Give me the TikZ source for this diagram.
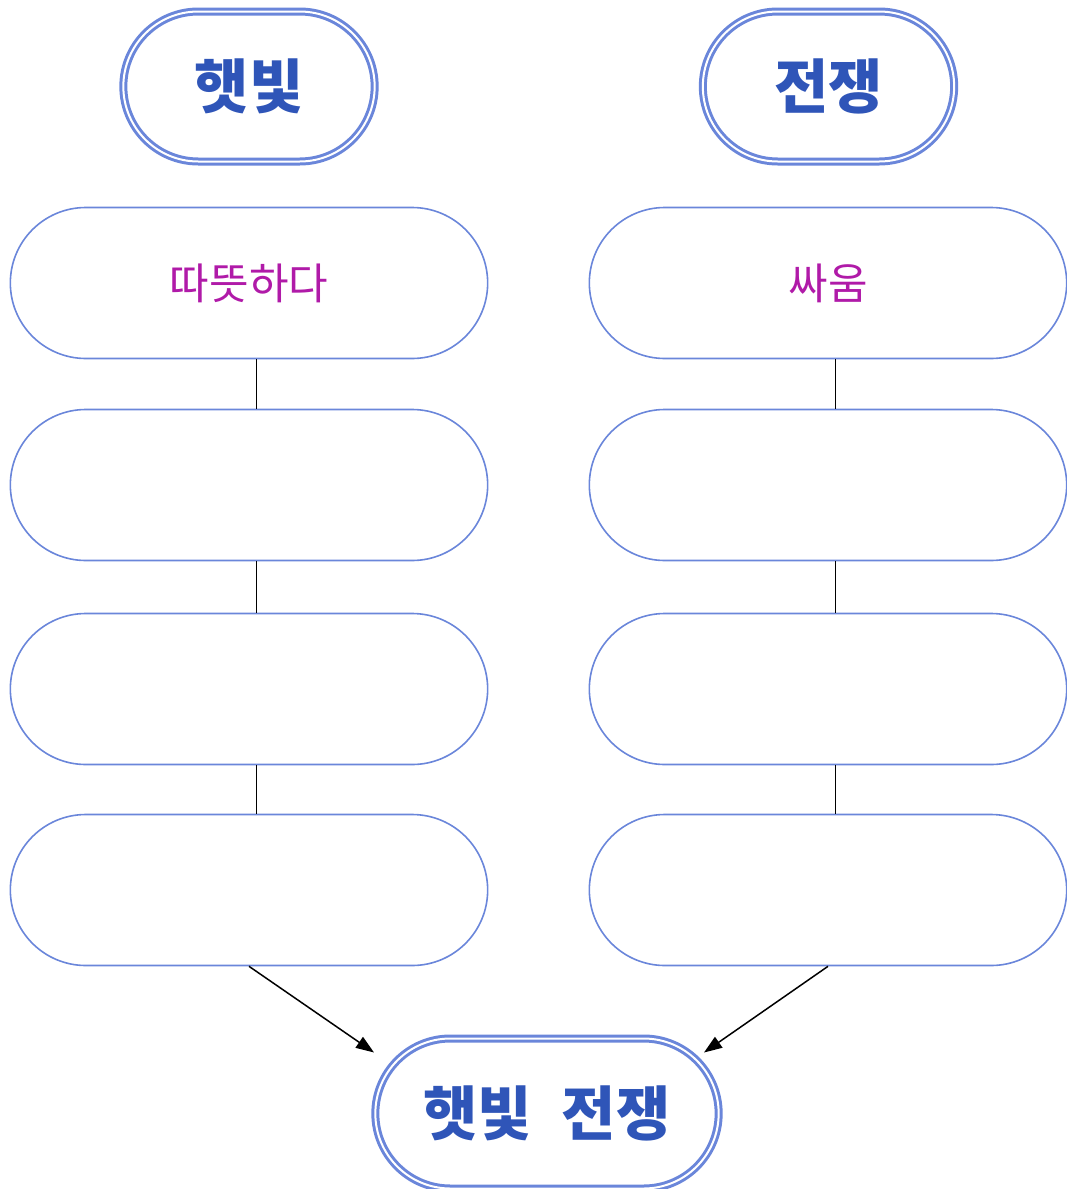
\documentclass[tikz,border=0pt]{standalone}
\usepackage{fontspec}
\newfontfamily\krfont{Noto Sans CJK KR}
\usetikzlibrary{shapes.misc, arrows.meta}

\definecolor{border_blue}{HTML}{6A86DA}
\definecolor{title_blue}{HTML}{2F55B8}
\definecolor{word_magenta}{HTML}{B01AA8}
\tikzstyle{title_node}=[rounded rectangle,
                        minimum width=258,
                        minimum height=150,
                        draw=border_blue,
                        line width=3,
                        double=white,
                        double distance=2,
                        text=title_blue,
                        font=\krfont\bfseries\fontsize{59}{64}\selectfont, ]
\tikzstyle{word_box}=[rounded rectangle,
                      minimum width=484,
                      minimum height=151,
                      draw=border_blue,
                      line width=1.6,
                      text=word_magenta,
                      font=\krfont\fontsize{43}{48}\selectfont, ]
\tikzstyle{link}=[draw=black, line width=1]
\tikzstyle{link_arrow}=[draw=black, line width=1.5, -{Triangle[length=18, width=13]}]

\begin{document}
\begin{tikzpicture}[x=1pt, y=-1pt]
  \useasboundingbox (0, 0) rectangle (1066, 1189);

  % Titles
  % -------------------------------------------------------------
  \node at (249, 86.5) (sun_title) [title_node] {햇빛};
  \node at (828.5, 86.5) (war_title) [title_node] {전쟁};

  % Word boxes
  % -------------------------------------------------------------
  \node at (249, 283) (sun_1) [word_box] {따뜻하다};
  \node at (828, 283) (war_1) [word_box] {싸움};
  \foreach \i/\y in {2/485, 3/689, 4/890} {
      \node at (249, \y) (sun_\i) [word_box] {};
      \node at (828, \y) (war_\i) [word_box] {};
    }
  \foreach \i/\j in {1/2, 2/3, 3/4} {
      \draw [link] ([xshift=7]sun_\i.south) -- ([xshift=7]sun_\j.north);
      \draw [link] ([xshift=7]war_\i.south) -- ([xshift=7]war_\j.north);
    }

  % Both
  % -------------------------------------------------------------
  \node at (547, 1113.5) (both) [title_node, minimum width=350] {햇빛\hspace{30pt}전쟁};
  \draw [link_arrow] (sun_4.south) -- ([shift={(-173,-61)}]both.center);
  \draw [link_arrow] (war_4.south) -- ([shift={(157,-61)}]both.center);
\end{tikzpicture}
\end{document}
